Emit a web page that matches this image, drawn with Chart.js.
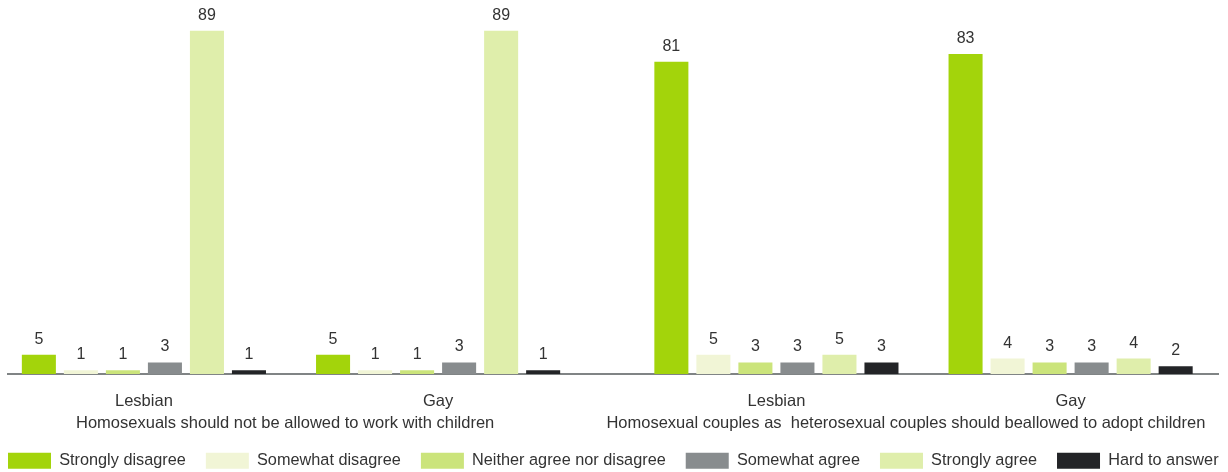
<!DOCTYPE html>
<html>
<head>
<meta charset="utf-8">
<script src="https://cdn.jsdelivr.net/npm/chart.js@4.4.1/dist/chart.umd.min.js"></script>
<style>
  html, body { margin: 0; padding: 0; background: #fff; }
  #wrap { width: 1228px; height: 472px; }
</style>
</head>
<body>
<div id="wrap"><canvas id="grafico"></canvas></div>
<script>
// categories
const groups = ['Lesbian', 'Gay', 'Lesbian', 'Gay'];
const questions = [
  'Homosexuals should not be allowed to work with children',
  'Homosexual couples as  heterosexual couples should beallowed to adopt children'
];
const answers = ['Strongly disagree', 'Somewhat disagree', 'Neither agree nor disagree',
  'Somewhat agree', 'Strongly agree', 'Hard to answer'];

// values (%)
const stronglyDisagree = [5, 5, 81, 83];
const somewhatDisagree = [1, 1, 5, 4];
const neitherAgree = [1, 1, 3, 3];
const somewhatAgree = [3, 3, 3, 3];
const stronglyAgree = [89, 89, 5, 4];
const hardToAnswer = [1, 1, 3, 2];

const series = [stronglyDisagree, somewhatDisagree, neitherAgree, somewhatAgree, stronglyAgree, hardToAnswer];
const colors = ['#a3d40b', '#f1f5d6', '#cbe47b', '#888c8e', '#dfeeab', '#232427'];

// group positions on the x scale, with a wider gap between the two questions
const groupPos = groups.map((g, i) => i + (i >= 2 ? 0.15 : 0));
const questionPos = [0.48, 2.59];
const font = '"Liberation Sans", Arial, sans-serif';

const barLabels = {
  id: 'barLabels',
  afterDatasetsDraw(chart) {
    const ctx = chart.ctx;
    ctx.save();
    ctx.font = '16px ' + font;
    ctx.fillStyle = '#333';
    ctx.textAlign = 'center';
    ctx.textBaseline = 'alphabetic';
    chart.data.datasets.forEach((ds, i) => {
      chart.getDatasetMeta(i).data.forEach((bar, j) => {
        ctx.fillText(ds.data[j].y, bar.x, bar.y - 11);
      });
    });
    ctx.restore();
  }
};

// keep the legend on one row and a bit lower
const legendFix = {
  id: 'legendFix',
  afterInit(chart) {
    const fit = chart.legend.fit;
    chart.legend.fit = function () {
      this.maxWidth = 3000;
      fit.call(this);
      this.height = 39.5;
    };
  },
  afterLayout(chart) {
    chart.legend.left = -12;
    chart.legend.right = 3000;
  }
};

const ctx = document.getElementById('grafico');

new Chart(ctx, {
  type: 'bar',
  data: {
    datasets: answers.map((name, k) => ({
      label: name,
      data: groupPos.map((x, i) => ({ x: x, y: series[k][i] })),
      backgroundColor: colors[k],
      borderWidth: 0,
      categoryPercentage: 0.857,
      barPercentage: 0.81
    }))
  },
  options: {
    responsive: true,
    maintainAspectRatio: false,
    animation: false,
    layout: { padding: { left: 8, right: 10, top: 0, bottom: 0 } },
    scales: {
      x: {
        type: 'linear',
        offset: false,
        min: -0.462,
        max: 3.651,
        grid: { display: false, drawTicks: false },
        border: { display: true, color: '#808485', width: 2 },
        afterBuildTicks: scale => { scale.ticks = groupPos.map(v => ({ value: v })); },
        afterFit: s => { s.paddingLeft = 0; s.paddingRight = 0; s.height = 35.5; },
        ticks: {
          autoSkip: false,
          maxRotation: 0,
          padding: 18,
          color: '#333',
          font: { family: font, size: 16.5 },
          callback: (v, i) => groups[i]
        }
      },
      x2: {
        type: 'linear',
        position: 'bottom',
        offset: false,
        min: -0.462,
        max: 3.651,
        grid: { display: false, drawTicks: false },
        border: { display: false },
        afterBuildTicks: scale => { scale.ticks = questionPos.map(v => ({ value: v })); },
        afterFit: s => { s.paddingLeft = 0; s.paddingRight = 0; s.height = 23; },
        ticks: {
          autoSkip: false,
          maxRotation: 0,
          padding: 4,
          color: '#333',
          font: { family: font, size: 16.5 },
          callback: (v, i) => questions[i]
        }
      },
      y: {
        display: false,
        min: 0,
        max: 97
      }
    },
    plugins: {
      legend: {
        position: 'bottom',
        align: 'start',
        labels: {
          boxWidth: 43,
          boxHeight: 16,
          padding: 20,
          color: '#333',
          font: { family: font, size: 16.3 }
        }
      },
      tooltip: { enabled: false }
    }
  },
  plugins: [barLabels, legendFix]
});
</script>
</body>
</html>
